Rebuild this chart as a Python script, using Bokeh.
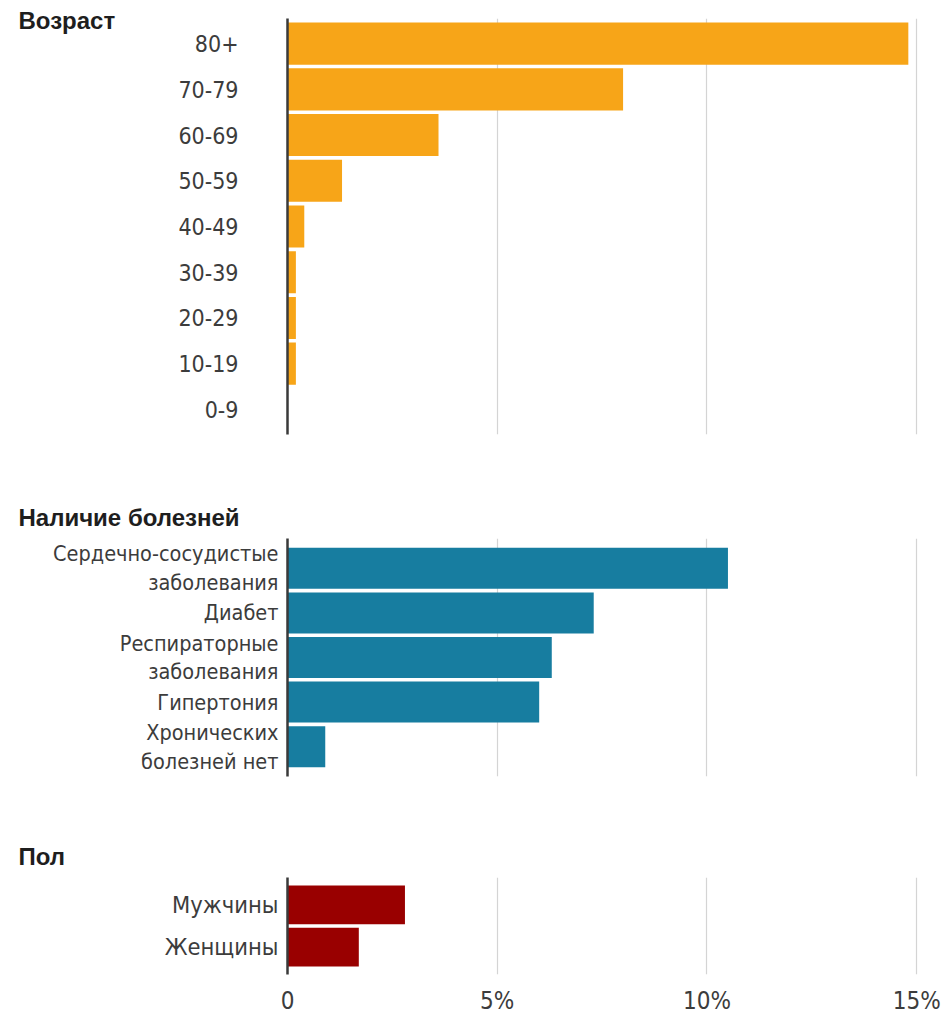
from bokeh.plotting import figure
from bokeh.layouts import column
from bokeh.models import FactorRange, Range1d, FixedTicker, Title
from bokeh.embed import file_html
from bokeh.resources import INLINE

# ---- data ----
age_title = "Возраст"
age_groups = ["80+", "70-79", "60-69", "50-59", "40-49", "30-39", "20-29", "10-19", "0-9"]
age_rates = [14.8, 8.0, 3.6, 1.3, 0.4, 0.2, 0.2, 0.2, 0.0]

cond_title = "Наличие болезней"
conditions = ["Сердечно-сосудистые\nзаболевания", "Диабет", "Респираторные\nзаболевания",
              "Гипертония", "Хронических\nболезней нет"]
condition_rates = [10.5, 7.3, 6.3, 6.0, 0.9]

sex_title = "Пол"
sexes = ["Мужчины", "Женщины"]
sex_rates = [2.8, 1.7]

x_ticks = [0, 5, 10, 15]
x_tick_labels = ["0", "5%", "10%", "15%"]

# ---- style ----
LABEL_FONT = "DejaVu Sans Condensed"
TITLE_FONT = "Liberation Sans"
X_MAX = 15.4
FRAME_W = 646
LEFT = 287
RIGHT = 16
FIG_W = LEFT + FRAME_W + RIGHT
TITLE_X = 18


def panel(title, cats, vals, color, top, frame_h, bottom, standoff, pad,
          label_size, title_standoff, show_x=False):
    height = top + frame_h + bottom
    p = figure(
        width=FIG_W, height=height,
        y_range=FactorRange(*reversed(cats), range_padding=pad, range_padding_units="absolute"),
        x_range=Range1d(0, X_MAX),
        output_backend="svg", toolbar_location=None,
        x_axis_location="below" if show_x else None,
        min_border_left=LEFT, min_border_right=RIGHT,
        min_border_top=top, min_border_bottom=0 if show_x else bottom,
        outline_line_color=None,
    )
    p.hbar(y=list(cats), right=list(vals), left=0, height=0.92, color=color, line_color=None)
    p.ygrid.grid_line_color = None
    p.xgrid.ticker = FixedTicker(ticks=[t for t in x_ticks if t > 0])
    p.xgrid.grid_line_color = "#d4d4d4"
    p.xgrid.grid_line_width = 1.2

    ya = p.yaxis[0]
    ya.axis_line_color = "#3a3a3a"
    ya.axis_line_width = 2.5
    ya.major_tick_line_color = None
    ya.minor_tick_line_color = None
    ya.major_tick_out = 0
    ya.major_tick_in = 0
    ya.major_label_text_font = LABEL_FONT
    ya.major_label_text_font_size = label_size
    ya.major_label_text_color = "#3c3c3c"
    ya.major_label_standoff = standoff
    ya.major_label_text_line_height = 1.15

    if show_x:
        xa = p.xaxis[0]
        xa.ticker = FixedTicker(ticks=x_ticks)
        xa.major_label_overrides = {t: s for t, s in zip(x_ticks, x_tick_labels)}
        xa.axis_line_color = None
        xa.major_tick_line_color = None
        xa.minor_tick_line_color = None
        xa.major_tick_out = 0
        xa.major_tick_in = 0
        xa.major_label_text_font = LABEL_FONT
        xa.major_label_text_font_size = "24px"
        xa.major_label_text_color = "#3c3c3c"
        xa.major_label_standoff = 12

    t = Title(text=title, align="left", offset=TITLE_X - LEFT, standoff=title_standoff,
              text_font=TITLE_FONT, text_font_style="bold", text_font_size="24px",
              text_color="#1e1e1e")
    p.add_layout(t, "above")
    return p


p1 = panel(age_title, age_groups, age_rates, "#F7A518", 18, 416, 52, 49, 0.05, "23px", -30)
p2 = panel(cond_title, conditions, condition_rates, "#177DA0", 52, 238, 24, 9, 0.17, "21.5px", 16)
p3 = panel(sex_title, sexes, sex_rates, "#990000", 77, 96, 44, 9, 0.15, "23.5px", 16, show_x=True)

layout = column(p1, p2, p3, spacing=0)
open("out.html", "w").write(file_html(layout, INLINE))
